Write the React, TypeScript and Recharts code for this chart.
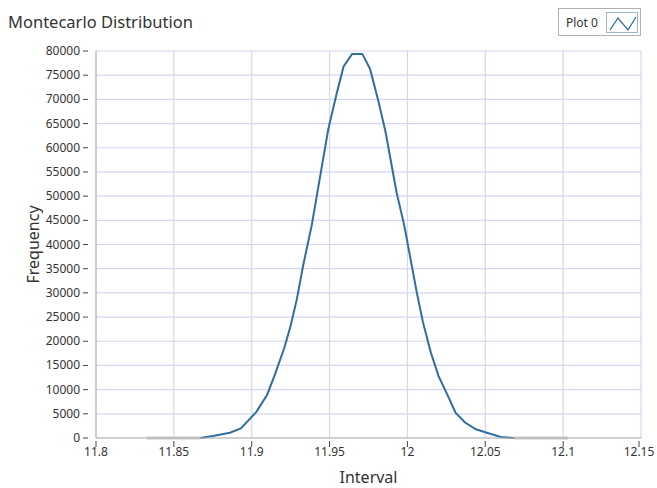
import { LineChart, Line, XAxis, YAxis, CartesianGrid } from "recharts";

// Histogram bin centres (interval) and counts.
const intervals = [
  11.8326, 11.867, 11.875, 11.886, 11.893, 11.903, 11.91, 11.915, 11.921, 11.925,
  11.929, 11.933, 11.9385, 11.944, 11.9492, 11.9545, 11.959, 11.9645, 11.971, 11.976,
  11.981, 11.986, 11.9895, 11.993, 11.998, 12.002, 12.006, 12.01, 12.015, 12.02,
  12.026, 12.031, 12.037, 12.044, 12.051, 12.06, 12.0685, 12.103,
];
const frequency: (number | null)[] = [
  null, 0, 400, 1100, 2000, 5400, 9000, 13200, 18700, 23200,
  28700, 35600, 43900, 54200, 63900, 71100, 76800, 79400, 79400, 76300,
  70100, 63200, 57000, 50800, 43900, 37000, 30100, 23900, 17700, 12800,
  8700, 5200, 3200, 1800, 1100, 200, 0, null,
];
// empty bins at both ends, drawn as a grey line on zero
const emptyBins: (number | null)[] = [
  0, 0, null, null, null, null, null, null, null, null,
  null, null, null, null, null, null, null, null, null, null,
  null, null, null, null, null, null, null, null, null, null,
  null, null, null, null, null, null, 0, 0,
];

const xTicks = [11.8, 11.85, 11.9, 11.95, 12, 12.05, 12.1, 12.15];
const yTicks = [
  0, 5000, 10000, 15000, 20000, 25000, 30000, 35000, 40000,
  45000, 50000, 55000, 60000, 65000, 70000, 75000, 80000,
];

const data = intervals.map((interval, i) => ({
  interval,
  freq: frequency[i],
  empty: emptyBins[i],
}));

const FONT = "'Noto Sans', 'Open Sans', sans-serif";
const TEXT = "#333333";
const BORDER = "#b4b4b4";

function YTick({ x, y, payload }: any) {
  return (
    <g>
      <text x={x - 16} y={y} dy={4} textAnchor="end" fontSize={12} fill={TEXT}>
        {payload.value}
      </text>
      <line x1={x - 13} x2={x - 8} y1={y} y2={y} stroke="#444" />
    </g>
  );
}

function XTick({ x, y, payload }: any) {
  return (
    <g>
      <line x1={x} x2={x} y1={y + 3} y2={y + 9} stroke="#444" />
      <text x={x} y={y + 18} textAnchor="middle" fontSize={12} fill={TEXT}>
        {payload.value}
      </text>
    </g>
  );
}

function PlotLegend() {
  return (
    <div
      style={{
        position: "absolute",
        left: 558,
        top: 8,
        width: 83,
        height: 28,
        border: "1px solid #b0b0b0",
        background: "#fff",
        boxSizing: "border-box",
      }}
    >
      <span style={{ position: "absolute", left: 7, top: 5, fontSize: 12, color: TEXT }}>
        Plot 0
      </span>
      <svg
        width={32}
        height={21}
        style={{ position: "absolute", left: 47, top: 3, border: "1px solid #9fb4c8", boxSizing: "border-box" }}
      >
        <polyline points="3,17 11,5 21,17 29,4" fill="none" stroke="#2f6e9e" strokeWidth={1.3} />
      </svg>
    </div>
  );
}

export default function App() {
  return (
    <div
      style={{
        position: "absolute",
        left: 0,
        top: 0,
        width: 657,
        height: 488,
        background: "#fff",
        fontFamily: FONT,
      }}
    >
      <div style={{ position: "absolute", left: 8, top: 10, fontSize: 16.5, color: TEXT }}>
        Montecarlo Distribution
      </div>
      <PlotLegend />
      <LineChart
        width={657}
        height={488}
        data={data}
        margin={{ top: 51, right: 16, bottom: 0, left: 0 }}
        style={{ fontFamily: FONT }}
      >
        <CartesianGrid stroke="#d6d6f0" strokeWidth={1.2} />
        <XAxis
          dataKey="interval"
          type="number"
          domain={[11.8, 12.15]}
          ticks={xTicks}
          height={50}
          axisLine={{ stroke: BORDER }}
          tickLine={false}
          tickSize={0}
          tickMargin={0}
          tick={<XTick />}
          label={{
            content: ({ viewBox }: any) => (
              <text
                x={viewBox.x + viewBox.width / 2}
                y={viewBox.y + 45}
                textAnchor="middle"
                fontSize={16}
                fill={TEXT}
              >
                Interval
              </text>
            ),
          }}
        />
        <XAxis xAxisId="top" orientation="top" dataKey="interval" type="number" domain={[11.8, 12.15]} height={0} tick={false} tickLine={false} axisLine={{ stroke: BORDER }} />
        <YAxis
          type="number"
          domain={[0, 80000]}
          ticks={yTicks}
          width={96}
          axisLine={{ stroke: BORDER }}
          tickLine={false}
          tickSize={0}
          tickMargin={0}
          tick={<YTick />}
          label={{
            content: ({ viewBox }: any) => {
              const cx = viewBox.x + 33;
              const cy = viewBox.y + viewBox.height / 2;
              return (
                <text
                  x={cx}
                  y={cy}
                  transform={`rotate(-90 ${cx} ${cy})`}
                  textAnchor="middle"
                  dominantBaseline="central"
                  fontSize={16}
                  fill={TEXT}
                >
                  Frequency
                </text>
              );
            },
          }}
        />
        <YAxis yAxisId="right" orientation="right" width={0} tick={false} tickLine={false} axisLine={{ stroke: BORDER }} />
        <Line
          dataKey="empty"
          type="linear"
          stroke="#c8c8c8"
          strokeWidth={3}
          dot={false}
          connectNulls={false}
          isAnimationActive={false}
        />
        <Line
          dataKey="freq"
          name="Plot 0"
          type="linear"
          stroke="#2f6e9e"
          strokeWidth={2}
          dot={false}
          connectNulls={false}
          isAnimationActive={false}
        />
      </LineChart>
    </div>
  );
}
